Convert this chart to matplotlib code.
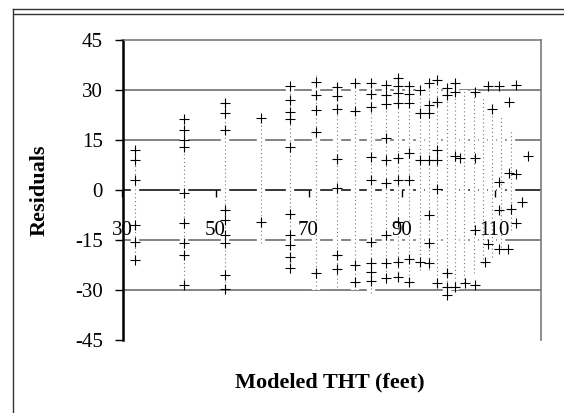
import matplotlib
matplotlib.use("Agg")
import matplotlib.pyplot as plt
from matplotlib.lines import Line2D

plt.rcParams['font.family'] = ['Liberation Serif', 'DejaVu Serif']
plt.rcParams['axes.unicode_minus'] = False

# "+" residual markers (Modeled THT, residual)
x_plus = [32.7]*6 + [43.2]*9 + [52.0]*9 + [59.7]*2 + [66.0]*10 + [71.6]*5 + [76.1]*7 + [80.0]*4 \
    + [83.4]*9 + [86.7]*9 + [89.3]*9 + [91.6]*7 + [94.0]*4 + [95.9]*7 + [97.6]*6 + [99.7]*5 \
    + [101.5]*4 + [102.6, 103.7] + [105.9]*4 + [108.0, 108.5, 108.5, 109.4] + [111.0]*4 \
    + [112.8, 113.1, 113.1, 113.5, 114.6, 114.6, 114.6, 116.0, 117.2]
y_plus = [12.0, 9.0, 3.0, -10.5, -15.5, -21.0,
          21.3, 18.0, 15.0, 13.0, -1.0, -9.9, -15.9, -19.5, -28.5,
          26.1, 23.2, 18.0, -6.0, -9.0, -13.5, -15.9, -25.5, -29.7,
          21.7, -9.5,
          31.2, 27.0, 23.5, 21.3, 13.0, -7.2, -13.5, -16.5, -20.0, -23.4,
          32.5, 28.5, 24.0, 17.5, -25.0,
          31.0, 28.2, 24.3, 9.3, 0.6, -19.5, -23.7,
          32.0, 23.8, -22.5, -27.5,
          32.2, 28.8, 24.8, 9.8, 3.0, -15.5, -21.8, -24.5, -27.2,
          31.5, 28.5, 25.8, 15.6, 9.0, 2.2, -13.5, -21.9, -26.4,
          33.5, 31.2, 29.0, 26.0, 9.6, 3.0, -9.5, -21.5, -26.0,
          31.2, 28.8, 26.0, 11.2, 3.0, -20.8, -27.5,
          30.0, 23.0, 9.0, -21.5,
          32.0, 25.5, 23.0, 9.0, -7.5, -15.9, -21.9,
          33.0, 26.5, 12.0, 9.0, 0.2, -28.0,
          30.5, 28.5, -25.0, -29.0, -31.5,
          32.0, 29.5, 10.2, -29.0,
          9.6, -28.0,
          29.5, 9.5, -12.0, -28.5,
          -21.7, 31.2, -16.3, 24.2,
          31.2, 2.5, -6.0, -17.7,
          -17.7, 26.5, 5.0, -5.8, 31.5, 4.7, -10.0, -3.7, 10.3]

# dense (dotted) residual columns: x, top, bottom
col_x = [32.7, 43.2, 52.0, 59.7, 66.0, 71.6, 76.1, 80.0, 83.4, 86.7, 89.3, 91.6, 94.0,
         95.9, 97.6, 99.7, 101.5, 103.5, 105.5, 107.5, 109.5, 111.5, 113.5]
col_top = [12, 22, 27, 22, 32, 35, 32, 32, 33, 32, 34, 32, 31, 33, 34, 31, 32, 30, 30, 28, 26, 22, 18]
col_bot = [-21, -29, -30, -16, -25, -30, -29, -30, -31, -28, -27, -28, -24, -24, -29, -31, -30,
           -28, -25, -22, -20, -17, -12]

x_ticks = [30, 50, 70, 90, 110]
y_ticks = [-45, -30, -15, 0, 15, 30, 45]
y_grid = [-30, -15, 15, 30]

fig = plt.figure(figsize=(5.64, 4.13), dpi=100)
ax = fig.add_axes([122.5/564, 1-340/413, (541-122.5)/564, 300/413])
ax.set_xlim(30, 120)
ax.set_ylim(-45, 45)
ax.set_axisbelow(False)

for g in y_grid:
    ax.axhline(g, color='#7a7a7a', lw=1.3, zorder=1.5)
ax.axhline(0, color='black', lw=1.1, zorder=1.6)

ax.vlines(col_x, col_bot, col_top, color='white', lw=6, zorder=2.2)
ax.vlines(col_x, col_bot, col_top, color='#7a7a7a', lw=0.8, linestyles=(0, (1, 2.5)), zorder=2.3)
ax.plot(x_plus, y_plus, linestyle='none', marker='+', ms=6.5, mew=0.8, color='black', zorder=3)

ax.spines['bottom'].set_position(('data', 0))
ax.spines['bottom'].set_visible(False)
ax.spines['left'].set_color('black')
ax.spines['left'].set_linewidth(1.8)
for s in ['top', 'right']:
    ax.spines[s].set_color('#7a7a7a')
    ax.spines[s].set_linewidth(1.2)

ax.set_xticks(x_ticks)
ax.set_xticklabels([str(v) for v in x_ticks])
ax.set_yticks(y_ticks)
ax.set_yticklabels([str(v) for v in y_ticks])
ax.tick_params(axis='x', direction='out', length=5, width=1, pad=17, labelsize=15)
ax.tick_params(axis='y', direction='out', length=6, width=1, pad=8, labelsize=15)

ax.set_ylabel('Residuals', fontsize=16, fontweight='bold')
ax.yaxis.set_label_coords(-0.175, 0.5)
ax.text(0.496, -0.143, 'Modeled THT (feet)', transform=ax.transAxes, ha='center', va='center',
        fontsize=16, fontweight='bold')

fig.add_artist(Line2D([12.6/564, 12.6/564], [0, 1-9/413], transform=fig.transFigure, color='#333333', lw=1))
fig.add_artist(Line2D([12.6/564, 1], [1-9/413, 1-9/413], transform=fig.transFigure, color='#333333', lw=1))
fig.add_artist(Line2D([13.5/564, 1], [1-14/413, 1-14/413], transform=fig.transFigure, color='#333333', lw=1))

fig.savefig('out.png', dpi=100)
